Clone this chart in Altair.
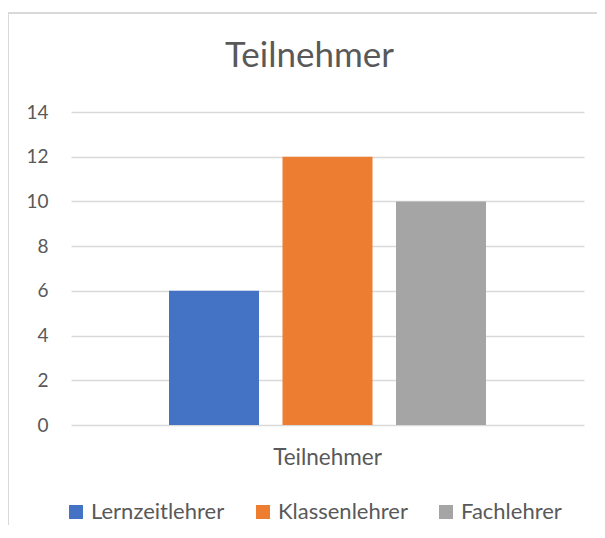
import altair as alt
import pandas as pd

categories = ["Teilnehmer"]
series = ["Lernzeitlehrer", "Klassenlehrer", "Fachlehrer"]
values = [6, 12, 10]
colors = ["#4472C4", "#ED7D31", "#A5A5A5"]
y_ticks = [0, 2, 4, 6, 8, 10, 12, 14]

df = pd.DataFrame({
    "Kategorie": [categories[0]] * len(series),
    "Gruppe": series,
    "Wert": values,
})

FONT = "Lato"
TXT = "#595959"
GRID = "#D9D9D9"

bars = alt.Chart(df).mark_bar().encode(
    x=alt.X("Kategorie:N", sort=categories,
            scale=alt.Scale(paddingInner=0, paddingOuter=0.2533),
            axis=alt.Axis(title=None, labelAngle=0, domain=False, ticks=False,
                          labelFontSize=22.5, labelColor=TXT, labelFont=FONT,
                          labelPadding=21)),
    xOffset=alt.XOffset("Gruppe:N", sort=series,
                        scale=alt.Scale(paddingInner=0.207, paddingOuter=0.1035)),
    y=alt.Y("Wert:Q", scale=alt.Scale(domain=[0, 14]),
            axis=alt.Axis(title=None, values=y_ticks, domain=False, ticks=False,
                          gridColor=GRID, gridWidth=1.3,
                          labelFontSize=19, labelColor=TXT, labelFont=FONT,
                          labelPadding=23)),
    color=alt.Color("Gruppe:N", sort=series,
                    scale=alt.Scale(domain=series, range=colors),
                    legend=alt.Legend(title=None, orient="none", direction="horizontal",
                                      legendX=-6, legendY=389, padding=0,
                                      symbolType="square", symbolSize=196,
                                      symbolStrokeWidth=0, symbolOpacity=1,
                                      labelFontSize=22, labelColor=TXT, labelFont=FONT,
                                      labelOffset=4, columnPadding=27)),
)

frame = alt.Chart(alt.Data(values=[{}])).mark_rect(
    fill=None, stroke=GRID, strokeWidth=2
).encode(
    x=alt.value(-63), x2=alt.value(560),
    y=alt.value(-99), y2=alt.value(460),
)

chart = alt.layer(frame, bars).properties(
    width=513,
    height=313,
    padding={"left": 63, "top": 104, "right": 13, "bottom": 100},
    autosize=alt.AutoSizeParams(type="none"),
    title=alt.TitleParams(text="Teilnehmer", fontSize=35, font=FONT, color=TXT,
                          fontWeight="normal", anchor="middle", baseline="alphabetic",
                          dx=-18, dy=90, offset=0),
).configure_view(stroke=None)

chart.save("out.html", embed_options={"renderer": "svg", "actions": False})
